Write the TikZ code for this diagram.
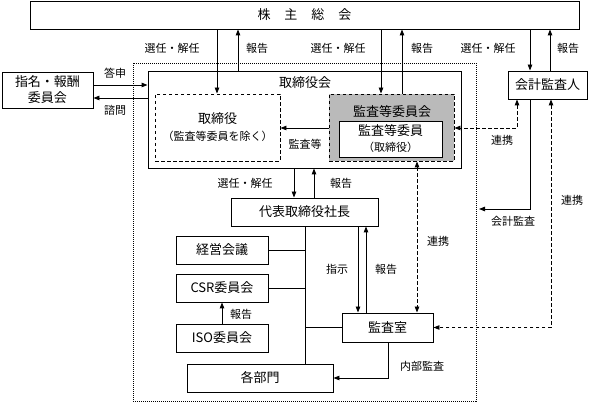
\documentclass[tikz,border=0pt]{standalone}
\usepackage{fontspec}
\setmainfont{Noto Sans CJK JP}
\usetikzlibrary{arrows.meta}
\tikzset{
  box/.style={draw, line width=0.9pt, fill=white, inner sep=0pt, font=\fontsize{13}{16}\selectfont, align=center},
  dbox/.style={box, dash pattern=on 3.5pt off 2.5pt},
  gbox/.style={dbox, fill=black!27},
  frame/.style={draw, line width=0.7pt, dash pattern=on 1pt off 1pt, inner sep=0pt},
  lab/.style={font=\fontsize{11}{13}\selectfont, inner sep=0pt},
  ttl/.style={font=\fontsize{13}{16}\selectfont, inner sep=0pt},
  arr/.style={line width=0.9pt, -{Triangle[length=6pt,width=4.5pt]}},
  darr/.style={line width=0.9pt, dash pattern=on 3.5pt off 2.5pt, {Triangle[length=6pt,width=4.5pt]}-{Triangle[length=6pt,width=4.5pt]}},
  ln/.style={line width=0.9pt}
}
\begin{document}
\begin{tikzpicture}[x=1pt,y=-1pt]
\useasboundingbox (0,0) rectangle (600,403);
% frame
\node[frame, minimum width=343pt, minimum height=338pt] (frm) at (304.5,232) {};
% boxes
\node[box, minimum width=549pt, minimum height=28pt] (soukai) at (304.5,15) {株\hspace{14pt}主\hspace{14pt}総\hspace{14pt}会};
\node[box, minimum width=91pt, minimum height=36pt] (shimei) at (47.5,90) {指名・報酬\\委員会};
\node[box, minimum width=313pt, minimum height=97pt] (torikai) at (304.5,119.5) {};
\node[ttl] (torikaiT) at (305,83) {取締役会};
\node[dbox, minimum width=125pt, minimum height=67pt] (tori) at (217.5,127.5) {取締役\\[1pt]{\fontsize{11}{13}\selectfont （監査等委員を除く）}};
\node[gbox, minimum width=125pt, minimum height=67pt] (kansakai) at (391.5,127.5) {};
\node[ttl] (kansakaiT) at (392,112) {監査等委員会};
\node[box, minimum width=103pt, minimum height=36pt] (kansain) at (390.5,139) {監査等委員\\{\fontsize{11}{13}\selectfont （取締役）}};
\node[box, minimum width=79pt, minimum height=28pt] (kaikei) at (547.5,85) {会計監査人};
\node[box, minimum width=147pt, minimum height=28pt] (daihyo) at (304.5,212) {代表取締役社長};
\node[box, minimum width=92pt, minimum height=28pt] (keiei) at (222,250) {経営会議};
\node[box, minimum width=92pt, minimum height=28pt] (csr) at (222,288) {CSR委員会};
\node[box, minimum width=92pt, minimum height=28pt] (iso) at (222,338) {ISO委員会};
\node[box, minimum width=146pt, minimum height=28pt] (kakubu) at (260,378) {各部門};
\node[box, minimum width=91pt, minimum height=29pt] (shitsu) at (387.5,327.5) {監査室};
% column / row helpers
\coordinate (c1) at (217,0); \coordinate (c2) at (238,0);
\coordinate (c3) at (381,0); \coordinate (c4) at (402,0);
\coordinate (c5) at (530,0); \coordinate (c6) at (550,0);
\coordinate (c7) at (294,0); \coordinate (c8) at (314,0);
\coordinate (c9) at (358,0); \coordinate (c10) at (366,0);
\coordinate (c11) at (417,0); \coordinate (c12) at (517,0);
\coordinate (c13) at (551,0); \coordinate (c14) at (388,0);
\coordinate (tr) at (305,0);
\coordinate (r1) at (0,85); \coordinate (r2) at (0,98);
\coordinate (r3) at (0,128);
\coordinate (kaend) at (479,209);
% connectors to shareholders meeting
\draw[arr] (soukai.south -| c1) -- (tori.north -| c1);
\draw[arr] (torikai.north -| c2) -- (soukai.south -| c2);
\draw[arr] (soukai.south -| c3) -- (kansakai.north -| c3);
\draw[arr] (kansakai.north -| c4) -- (soukai.south -| c4);
\draw[arr] (soukai.south -| c5) -- (kaikei.north -| c5);
\draw[arr] (kaikei.north -| c6) -- (soukai.south -| c6);
% nomination committee
\draw[arr] (shimei.east |- r1) -- (torikai.west |- r1);
\draw[arr] (torikai.west |- r2) -- (shimei.east |- r2);
% audit
\draw[arr] (kansakai.west |- r3) -- (tori.east |- r3);
% board to president
\draw[arr] (torikai.south -| c7) -- (daihyo.north -| c7);
\draw[arr] (daihyo.north -| c8) -- (torikai.south -| c8);
% trunk
\draw[ln] (daihyo.south -| tr) -- (kakubu.north -| tr);
\draw[ln] (keiei.east) -- (keiei.east -| tr);
\draw[ln] (csr.east) -- (csr.east -| tr);
\draw[ln] (shitsu.west) -- (shitsu.west -| tr);
\draw[arr] (iso.north) -- (csr.south);
% president and audit office
\draw[arr] (daihyo.south -| c9) -- (shitsu.north -| c9);
\draw[arr] (shitsu.north -| c10) -- (daihyo.south -| c10);
\draw[arr] (shitsu.south -| c14) |- (kakubu.east);
% cooperation
\draw[darr] (kansakai.south -| c11) -- (shitsu.north -| c11);
\draw[darr] (kaikei.south -| c12) |- (kansakai.east |- r3);
\draw[arr] (kaikei.south -| c5) |- (kaend);
\draw[darr] (kaikei.south -| c13) |- (shitsu.east);
% labels
\node[lab] at (172,48) {選任・解任};
\node[lab] at (257,48) {報告};
\node[lab] at (338,48) {選任・解任};
\node[lab] at (422,48) {報告};
\node[lab] at (488,48) {選任・解任};
\node[lab] at (568,48) {報告};
\node[lab] at (115,73) {答申};
\node[lab] at (115,110) {諮問};
\node[lab] at (305,144) {監査等};
\node[lab] at (245,183) {選任・解任};
\node[lab] at (341,183) {報告};
\node[lab] at (241,314) {報告};
\node[lab] at (337,269) {指示};
\node[lab] at (386,269) {報告};
\node[lab] at (422,366) {内部監査};
\node[lab] at (438,241) {連携};
\node[lab] at (502,140) {連携};
\node[lab] at (513,221) {会計監査};
\node[lab] at (572,200) {連携};
\end{tikzpicture}
\end{document}
